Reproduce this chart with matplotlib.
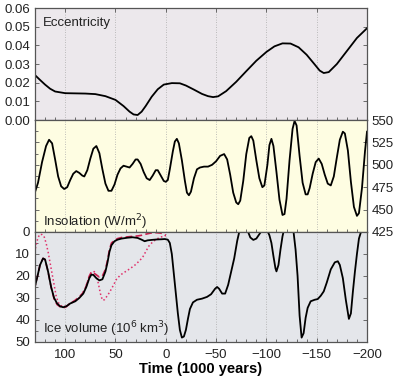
import matplotlib
matplotlib.use("Agg")
import matplotlib.pyplot as plt
from matplotlib.ticker import MultipleLocator

plt.rcParams['font.family'] = ['Liberation Sans', 'DejaVu Sans']

# eccentricity (time in ka, positive = past)
ecc_t = [131, 125, 120, 115, 110, 100, 90, 80, 70, 60, 50, 42, 36, 32, 28, 24, 20, 14, 8, 2,
         -6, -14, -20, -28, -36, -42, -47, -52, -60, -70, -80, -90, -100, -108, -116, -124,
         -132, -140, -148, -153, -157, -162, -170, -180, -190, -200]
ecc = [0.0246, 0.0215, 0.019, 0.0168, 0.0153, 0.0144, 0.0143, 0.0142, 0.0139, 0.0128, 0.0108,
       0.0075, 0.0045, 0.0030, 0.0027, 0.0045, 0.0075, 0.0125, 0.0165, 0.019,
       0.0198, 0.0197, 0.0185, 0.0163, 0.0140, 0.0128, 0.0123, 0.0127, 0.0155, 0.0205,
       0.0262, 0.0318, 0.0365, 0.0395, 0.0411, 0.0410, 0.0390, 0.0350, 0.0298, 0.0265,
       0.0252, 0.0257, 0.0300, 0.0370, 0.0440, 0.0492]

# summer insolation, W/m2
ins_t = [131, 127, 123, 119, 116, 113, 110, 107, 104, 101, 98, 95, 92, 89, 86, 83, 81, 78, 75,
         72, 69, 66, 63, 60, 57, 54, 51, 48, 45, 42, 39, 36, 33, 30, 28, 25, 22, 19, 16, 13,
         10, 8, 5, 2, 0, -2, -4, -7, -9, -11, -13, -16, -19, -21, -23, -25, -28, -31, -34,
         -38, -42, -46, -50, -54, -58, -61, -64, -67, -70, -72, -74, -77, -80, -83, -85, -87,
         -90, -93, -96, -98, -101, -103, -105, -107, -110, -113, -116, -118, -120, -123, -126,
         -128, -130, -133, -136, -139, -141, -143, -146, -149, -152, -155, -158, -161, -164,
         -167, -170, -173, -176, -178, -181, -184, -187, -190, -192, -195, -198, -200]
ins = [466, 480, 503, 521, 528, 524, 506, 487, 476, 473, 475, 483, 490, 493, 491, 488, 487, 494,
       507, 518, 521, 513, 495, 479, 471, 471, 478, 489, 496, 499, 498, 497, 501, 506, 506,
       501, 492, 485, 483, 488, 494, 494, 488, 482, 481, 483, 495, 515, 526, 529, 524, 505,
       482, 469, 466, 470, 485, 495, 497, 498, 498, 500, 504, 510, 512, 506, 489, 469, 458,
       456, 460, 482, 512, 530, 532, 527, 505, 485, 475, 477, 500, 522, 529, 521, 492, 461,
       444, 445, 462, 505, 540, 549, 544, 510, 480, 467, 467, 474, 490, 503, 507, 501, 489,
       479, 477, 487, 508, 528, 537, 535, 516, 481, 453, 443, 446, 474, 515, 537]

# ice volume, 10^6 km3 (model)
ice_t = [131, 128, 125, 122, 120, 117, 114, 111, 108, 105, 102, 99, 95, 90, 86, 82, 79, 76, 74,
         72, 69, 66, 63, 60, 58, 56, 54, 51, 48, 44, 38, 33, 28, 24, 21, 18, 14, 9, 4, 1, -2,
         -4, -6, -8, -10, -12, -14, -16, -18, -20, -22, -24, -27, -31, -36, -41, -45, -49,
         -51, -53, -56, -59, -62, -65, -68, -71, -73, -75, -78, -81, -84, -87, -90, -93, -96,
         -99, -101, -103, -105, -107, -109, -110, -112, -114, -116, -118, -121, -124, -127,
         -129, -131, -133, -135, -137, -139, -141, -144, -148, -151, -154, -157, -160, -164,
         -168, -171, -173, -176, -179, -182, -184, -186, -188, -190, -192, -194, -196, -200]
ice = [26.5, 21, 15, 12, 12.5, 18, 25, 30, 32.5, 33.8, 34.2, 33.8, 32.5, 31.5, 30, 28, 25, 21,
       19.4, 19.5, 21, 22, 21.5, 18, 14, 9, 6, 4.2, 3.5, 3, 2.6, 2.4, 2.7, 3.5, 4.2, 3.8, 3.6,
       3.4, 3.3, 3.2, 3.5, 5, 10, 19, 28, 37, 44.5, 48, 47.5, 44.5, 39.5, 35, 32, 30.8, 30.3,
       29.5, 28.3, 25.8, 25, 25.8, 28, 28, 24, 18, 12, 4, 0, -3, -3.5, -1, 2.5, 3.6, 3, 1,
       -1, -1.5, -0.5, 1.5, 5, 11, 16.5, 17.9, 15, 8, 2, -2, -4, -3, 0, 8, 20, 38, 48, 46, 39,
       34.5, 31.5, 30.8, 30.5, 29, 27, 23, 17, 13.8, 13.3, 15, 21, 31, 39.5, 37, 27, 18, 10,
       3, 0, -2, -3]

# ice volume from sea level records
dash_t = [131, 128, 125, 122, 120, 117, 114, 111, 108, 105, 102, 99, 95, 90, 86, 82, 79, 76,
          74, 72, 69, 66, 63, 60, 58, 56, 54, 51, 48, 44, 38, 33, 28, 24, 20, 15, 10, 5, 2, 0]
dash = [26.5, 21, 15, 12, 12.5, 18, 25, 30.5, 33, 34, 34.5, 34, 32.5, 31, 29.5, 27.5, 24.5, 20,
        18.2, 18.5, 19.5, 20.5, 20, 17, 13, 8, 5, 3.8, 3, 2.5, 2.2, 2, 1.8, 1.5, 1, 0.5, 0.3,
        0.5, 1, 1.5]

dot_t = [131, 129, 127, 125, 123, 121, 119, 117, 115, 113, 111, 109, 107, 104, 101, 97, 93, 88,
         84, 80, 77, 74, 71, 69, 67, 65, 63, 61, 59, 56, 53, 49, 45, 40, 35, 30, 26, 23, 20,
         17, 13, 9, 5, 1, 0]
dot = [11, 6, 2.5, 1, 1.2, 2, 5, 9, 14, 19, 24, 29, 32, 33.5, 34, 33, 32, 30.8, 28.8, 25.5,
       21.5, 18.5, 18, 19.5, 23.5, 28, 31, 30.8, 29.5, 27.5, 25, 21.5, 19.5, 18, 16.5, 14.8,
       13, 11.5, 9, 6.5, 4.5, 3.2, 2.3, 1.8, 1.6]

fig = plt.figure(figsize=(4.0, 3.86), dpi=100)
left, width = 0.0875, 0.83
ax1 = fig.add_axes([left, 0.689, width, 0.290])
ax2 = fig.add_axes([left, 0.399, width, 0.290], sharex=ax1)
ax3 = fig.add_axes([left, 0.114, width, 0.285], sharex=ax1)

bgs = ['#ece8ec', '#fefde2', '#e4e6ea']
for ax, bg in zip([ax1, ax2, ax3], bgs):
    ax.set_facecolor(bg)
    for s in ax.spines.values():
        s.set_color('#555555')
        s.set_linewidth(0.9)
    for g in [100, 50, 0, -50, -100, -150]:
        ax.axvline(g, color='#aaaaaa', lw=0.6, ls=(0, (1, 2)), zorder=0)
    ax.tick_params(direction='in', which='both', color='#555555', labelsize=9.5,
                   length=3, width=0.6, labelcolor='#222222')
    ax.tick_params(which='minor', length=2)

ax1.set_xlim(130, -200)

# eccentricity
ax1.plot(ecc_t, ecc, color='black', lw=1.3)
ax1.set_ylim(0, 0.06)
ax1.set_yticks([0, 0.01, 0.02, 0.03, 0.04, 0.05, 0.06])
ax1.yaxis.set_major_formatter(matplotlib.ticker.FormatStrFormatter('%.2f'))
ax1.tick_params(axis='y', right=True)
ax1.tick_params(axis='x', top=True, bottom=False, labelbottom=False)
ax1.xaxis.set_minor_locator(MultipleLocator(10))
ax1.text(122, 0.0555, 'Eccentricity', fontsize=9.5, va='top', color='#222222')

# insolation
ax2.plot(ins_t, ins, color='black', lw=1.3)
ax2.set_ylim(425, 550)
ax2.set_yticks([425, 450, 475, 500, 525, 550])
ax2.yaxis.set_minor_locator(MultipleLocator(12.5))
ax2.tick_params(axis='y', left=True, right=True, labelleft=False, labelright=True)
ax2.tick_params(axis='x', bottom=False, labelbottom=False)
ax2.text(122, 431, 'Insolation (W/m$^2$)', fontsize=9.5, color='#222222')

# ice volume
ax3.plot(dot_t, dot, color='#e0306a', lw=1.1, ls=(0, (1, 1.6)))
ax3.plot(dash_t, dash, color='#cc1f4f', lw=1.2, ls=(0, (4, 2)))
ax3.plot(ice_t, ice, color='black', lw=1.3)
ax3.set_ylim(50, 0)
ax3.set_yticks([0, 10, 20, 30, 40, 50])
ax3.yaxis.set_minor_locator(MultipleLocator(5))
ax3.tick_params(axis='y', right=True)
ax3.set_xticks([100, 50, 0, -50, -100, -150, -200])
ax3.xaxis.set_minor_locator(MultipleLocator(10))
ax3.tick_params(axis='x', pad=5)
ax3.text(122, 46, 'Ice volume (10$^6$ km$^3$)', fontsize=9.5, color='#222222')
ax3.set_xlabel('Time (1000 years)', fontsize=10.5, fontweight='bold', labelpad=1)

fig.savefig('out.png', dpi=100)
